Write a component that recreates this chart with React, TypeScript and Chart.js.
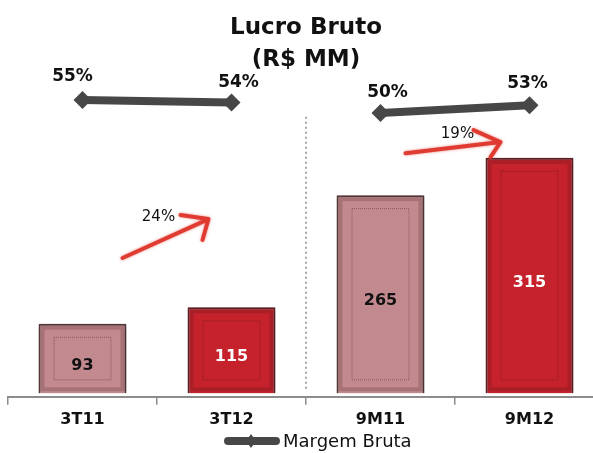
import React, { useEffect, useRef } from 'react';
import { Chart, registerables } from 'chart.js';
Chart.register(...registerables);

const CATEGORIES = ['3T11', '3T12', '9M11', '9M12'];
const LUCRO_BRUTO = [93, 115, 265, 315];
const MARGEM_BRUTA = [55, 54, 50, 53];
const MARGEM_LABELS = ['55%', '54%', '50%', '53%'];
const GROWTH_LABELS = ['24%', '19%'];
const TITLE_LINES = ['Lucro Bruto', '(R$ MM)'];
const LEGEND_LABEL = 'Margem Bruta';

const FONT = '"DejaVu Sans", Verdana, sans-serif';
const PINK = '#c28a8f';
const RED = '#c6222c';
const DARK = '#474747';

export default function App() {
  const ref = useRef<HTMLCanvasElement>(null);

  useEffect(() => {
    const canvas = ref.current!;

    const decor = {
      id: 'decor',
      beforeDatasetDraw(chart: any, args: any) {
        if (args.index === 0) {
          const ctx = chart.ctx;
          ctx.save();
          ctx.shadowColor = 'rgba(0,0,0,0.45)';
          ctx.shadowBlur = 5;
          ctx.shadowOffsetX = 1;
          ctx.shadowOffsetY = 1;
        }
      },
      afterDatasetDraw(chart: any, args: any) {
        const ctx = chart.ctx;
        if (args.index === 0) {
          ctx.restore();
          const meta = chart.getDatasetMeta(0);
          meta.data.forEach((bar: any, i: number) => {
            const left = bar.x - bar.width / 2;
            const right = bar.x + bar.width / 2;
            const top = bar.y;
            const bottom = bar.base;
            ctx.save();
            ctx.strokeStyle = 'rgba(60,20,20,0.2)';
            ctx.lineWidth = 4;
            ctx.strokeRect(left + 4, top + 4, right - left - 8, bottom - top - 8);
            ctx.strokeStyle = 'rgba(70,25,25,0.45)';
            ctx.lineWidth = 1;
            ctx.setLineDash([1, 1]);
            ctx.strokeRect(left + 15.5, top + 13.5, right - left - 31, bottom - top - 27);
            ctx.setLineDash([]);
            ctx.fillStyle = i % 2 === 0 ? '#111' : '#ffffff';
            ctx.font = `bold 16px ${FONT}`;
            ctx.textAlign = 'center';
            ctx.textBaseline = 'middle';
            ctx.fillText(String(LUCRO_BRUTO[i]), bar.x, (top + bottom) / 2 + 7);
            ctx.restore();
          });
        }
      },
      afterDraw(chart: any) {
        const ctx = chart.ctx;
        const xs = chart.scales.x;
        const ys = chart.scales.y;
        ctx.save();

        ctx.fillStyle = '#111';
        ctx.font = `bold 23px ${FONT}`;
        ctx.textAlign = 'center';
        ctx.textBaseline = 'middle';
        ctx.fillText(TITLE_LINES[0], 306, 28);
        ctx.fillText(TITLE_LINES[1], 306, 60);

        const lineMeta = chart.getDatasetMeta(1);
        const offs = [[-10, -23], [7, -20], [7, -20], [-2, -22]];
        ctx.font = `bold 17px ${FONT}`;
        lineMeta.data.forEach((pt: any, i: number) => {
          ctx.fillText(MARGEM_LABELS[i], pt.x + offs[i][0], pt.y + offs[i][1]);
        });

        const sepX = (xs.getPixelForValue(1) + xs.getPixelForValue(2)) / 2;
        ctx.strokeStyle = '#888';
        ctx.lineWidth = 1.5;
        ctx.setLineDash([2, 3]);
        ctx.beginPath();
        ctx.moveTo(sepX, ys.getPixelForValue(370));
        ctx.lineTo(sepX, ys.getPixelForValue(2));
        ctx.stroke();
        ctx.setLineDash([]);

        const arrow = (x0: number, y0: number, x1: number, y1: number, a: number[], b: number[]) => {
          ctx.save();
          ctx.strokeStyle = 'rgba(222,48,38,0.9)';
          ctx.shadowColor = 'rgba(222,48,38,0.6)';
          ctx.shadowBlur = 3;
          ctx.lineWidth = 4;
          ctx.lineCap = 'round';
          ctx.lineJoin = 'round';
          ctx.beginPath();
          ctx.moveTo(x0, y0);
          ctx.lineTo(x1, y1);
          ctx.moveTo(x1 + a[0], y1 + a[1]);
          ctx.lineTo(x1, y1);
          ctx.lineTo(x1 + b[0], y1 + b[1]);
          ctx.stroke();
          ctx.restore();
        };
        const c0 = xs.getPixelForValue(0), c1 = xs.getPixelForValue(1);
        const c2 = xs.getPixelForValue(2), c3 = xs.getPixelForValue(3);
        arrow(c0 + 40, ys.getPixelForValue(181), c1 - 23, ys.getPixelForValue(233), [-28, -4], [-6, 21]);
        arrow(c2 + 25, ys.getPixelForValue(321), c3 - 29, ys.getPixelForValue(336), [-27, -12], [-10, 15]);
        ctx.fillStyle = '#111';
        ctx.font = `15px ${FONT}`;
        ctx.textAlign = 'center';
        ctx.fillText(GROWTH_LABELS[0], c0 + 76, ys.getPixelForValue(235));
        ctx.fillText(GROWTH_LABELS[1], c2 + 77, ys.getPixelForValue(346));

        const ly = 441;
        ctx.strokeStyle = DARK;
        ctx.lineWidth = 8;
        ctx.lineCap = 'round';
        ctx.beginPath();
        ctx.moveTo(228, ly);
        ctx.lineTo(276, ly);
        ctx.stroke();
        ctx.fillStyle = DARK;
        ctx.beginPath();
        ctx.moveTo(251, ly - 7);
        ctx.lineTo(256, ly);
        ctx.lineTo(251, ly + 7);
        ctx.lineTo(246, ly);
        ctx.closePath();
        ctx.fill();
        ctx.fillStyle = '#111';
        ctx.font = `18px ${FONT}`;
        ctx.textAlign = 'left';
        ctx.fillText(LEGEND_LABEL, 283, ly + 1);

        ctx.restore();
      },
    };

    const chart = new Chart(canvas, {
      type: 'bar',
      data: {
        labels: CATEGORIES,
        datasets: [
          {
            type: 'bar',
            label: 'Lucro Bruto',
            data: LUCRO_BRUTO,
            backgroundColor: [PINK, RED, PINK, RED],
            borderColor: ['rgba(80,45,48,0.95)', 'rgba(90,20,25,0.95)', 'rgba(80,45,48,0.95)', 'rgba(90,20,25,0.95)'],
            borderWidth: 2,
            barPercentage: 0.59,
            categoryPercentage: 1,
            yAxisID: 'y',
            order: 1,
          },
          {
            type: 'line',
            label: LEGEND_LABEL,
            data: MARGEM_BRUTA,
            borderColor: DARK,
            backgroundColor: DARK,
            borderWidth: 8,
            pointStyle: 'rectRot',
            pointRadius: 9,
            pointBackgroundColor: DARK,
            pointBorderWidth: 0,
            clip: false,
            yAxisID: 'y2',
            order: 0,
            segment: {
              borderColor: (c: any) => (c.p0DataIndex === 1 ? 'rgba(0,0,0,0)' : DARK),
            },
          } as any,
        ],
      },
      options: {
        responsive: false,
        animation: false,
        devicePixelRatio: 1,
        layout: { autoPadding: false, padding: { left: 8, right: 8, top: 0, bottom: 19 } },
        plugins: {
          legend: { display: false },
          title: { display: false },
          tooltip: { enabled: false },
        },
        scales: {
          x: {
            offset: true,
            grid: { display: true, drawOnChartArea: false, drawTicks: true, tickLength: 8, color: '#8c8c8c', offset: true, lineWidth: 1.5 },
            border: { display: true, color: '#8c8c8c', width: 2 },
            ticks: { color: '#111', font: { family: FONT, size: 16, weight: 'bold' }, padding: 5 },
          },
          y: { display: false, min: -4.7, max: 526 },
          y2: { display: false, min: -59.23, max: 93.46 },
        },
      },
      plugins: [decor],
    });

    return () => chart.destroy();
  }, []);

  return (
    <div style={{ position: 'absolute', left: 0, top: 0, width: 593, height: 453, overflow: 'hidden', background: '#fff' }}>
      <canvas ref={ref} width={612} height={453} style={{ display: 'block' }} />
    </div>
  );
}
